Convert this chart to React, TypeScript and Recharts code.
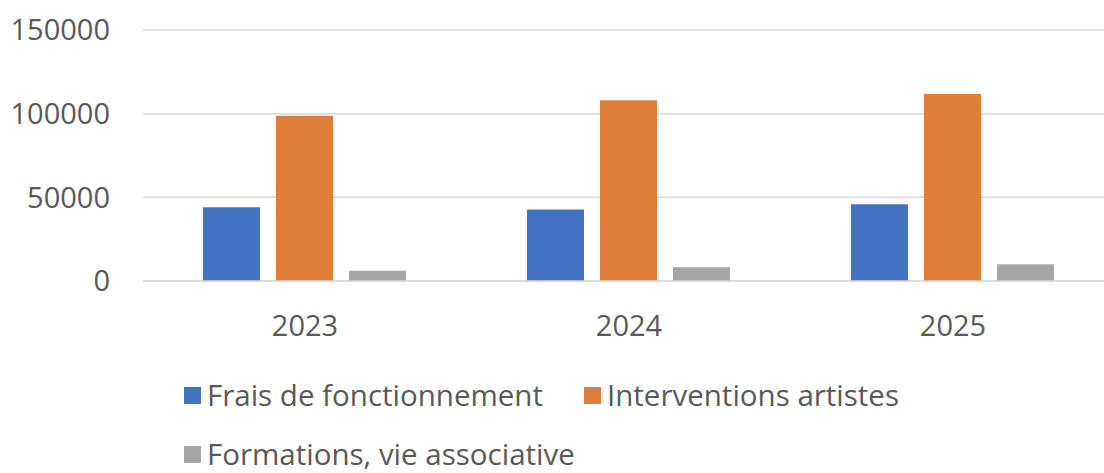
import React from 'react';
import { BarChart, Bar, XAxis, YAxis, CartesianGrid } from 'recharts';

const years = ['2023', '2024', '2025'];
const fraisFonctionnement = [44000, 42800, 45800];
const interventionsArtistes = [98700, 108000, 111800];
const formationsVieAssociative = [6100, 8200, 10000];
const yTicks = [0, 50000, 100000, 150000];

const SERIES = [
  { key: 'frais', name: 'Frais de fonctionnement', color: '#4472C4' },
  { key: 'interventions', name: 'Interventions artistes', color: '#E07E3C' },
  { key: 'formations', name: 'Formations, vie associative', color: '#A5A5A5' },
];

const TEXT = '#595959';
const GRID = '#D9D9D9';
const FONT = '"Open Sans", sans-serif';

const chartData = years.map((year, i) => ({
  year,
  frais: fraisFonctionnement[i],
  interventions: interventionsArtistes[i],
  formations: formationsVieAssociative[i],
}));

// legend is laid out by hand: two items on the first row, one on the second
const LEGEND_SLOTS = [
  { left: 184, top: 380 },
  { left: 584, top: 380 },
  { left: 184, top: 439 },
];

export default function App() {
  return (
    <div
      style={{
        position: 'fixed',
        left: 0,
        top: 0,
        width: 1104,
        height: 473,
        overflow: 'hidden',
        background: '#fff',
        fontFamily: FONT,
      }}
    >
      <BarChart
        width={1120}
        height={473}
        data={chartData}
        margin={{ top: 30, right: 5, bottom: 132, left: 0 }}
        barCategoryGap={60}
        barGap={16}
      >
        <CartesianGrid vertical={false} stroke={GRID} strokeWidth={1.5} />
        <XAxis
          dataKey="year"
          height={60}
          axisLine={{ stroke: GRID, strokeWidth: 1.5 }}
          tickLine={false}
          tickSize={0}
          tickMargin={34}
          tick={{ fill: TEXT, fontSize: 29, fontFamily: FONT }}
        />
        <YAxis
          width={143}
          domain={[0, 150000]}
          ticks={yTicks}
          axisLine={false}
          tickLine={false}
          tickSize={0}
          tickMargin={33}
          tick={{ fill: TEXT, fontSize: 29, fontFamily: FONT }}
        />
        {SERIES.map(s => (
          <Bar key={s.key} dataKey={s.key} name={s.name} fill={s.color} isAnimationActive={false} />
        ))}
      </BarChart>

      {SERIES.map((s, i) => (
        <div
          key={s.key}
          style={{
            position: 'absolute',
            left: LEGEND_SLOTS[i].left,
            top: LEGEND_SLOTS[i].top,
            height: 30,
            display: 'flex',
            alignItems: 'center',
            whiteSpace: 'nowrap',
          }}
        >
          <span style={{ width: 17, height: 17, background: s.color, marginRight: 6 }} />
          <span style={{ color: TEXT, fontSize: 29.5, lineHeight: '30px' }}>{s.name}</span>
        </div>
      ))}
    </div>
  );
}
